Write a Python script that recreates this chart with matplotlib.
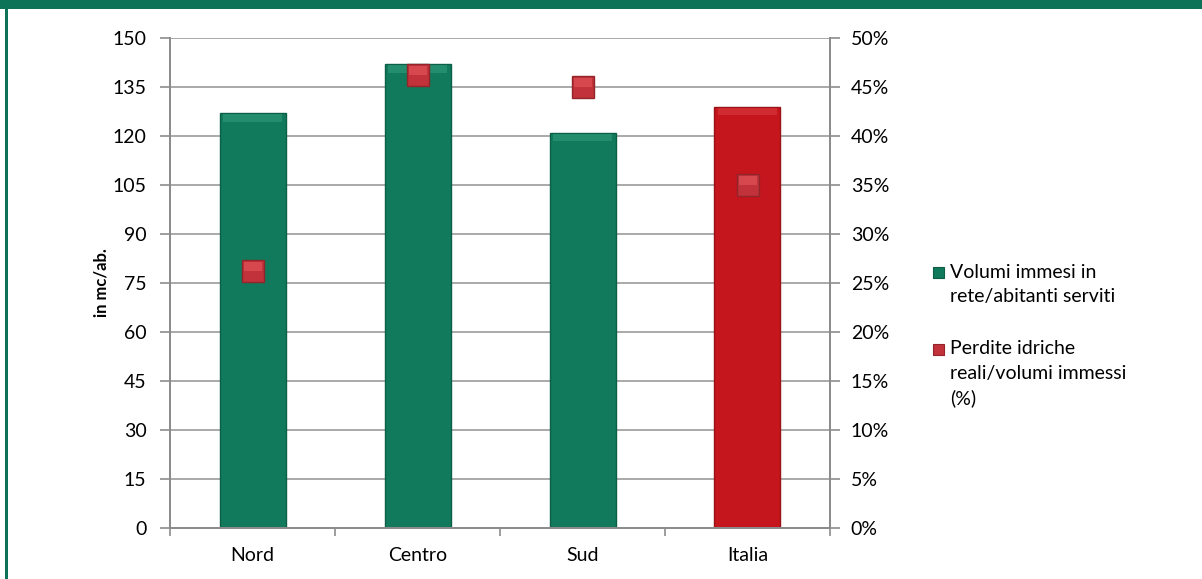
import matplotlib
matplotlib.use("Agg")
import matplotlib.pyplot as plt
from matplotlib.patches import Rectangle
from matplotlib.ticker import FixedLocator

# Data
categories = ["Nord", "Centro", "Sud", "Italia"]
volumi = [127, 142, 121, 129]          # mc/ab.
perdite = [26.2, 46.2, 45.0, 35.0]     # %
left_ticks = [0, 15, 30, 45, 60, 75, 90, 105, 120, 135, 150]
right_ticks = [0, 5, 10, 15, 20, 25, 30, 35, 40, 45, 50]
legend_labels = [["Volumi immesi in", "rete/abitanti serviti"],
                 ["Perdite idriche", "reali/volumi immessi", "(%)"]]

GREEN = "#117a5c"
GREEN_EDGE = "#0c5e46"
GREEN_HI = "#3aa584"
RED_BAR = "#c4161c"
RED_EDGE = "#9a1216"
RED_HI = "#e0454a"
MARK_TOP = "#d6474e"
MARK_BOT = "#c1323a"
MARK_EDGE = "#93242a"
FRAME = "#0d7358"
GRID = "#a9a9a9"
SPINE = "#8c8c8c"

plt.rcParams["font.family"] = ["Lato", "DejaVu Sans"]
FS = 14

fig = plt.figure(figsize=(12.02, 5.79), dpi=100)
ax = fig.add_axes([170 / 1202, 1 - 528 / 579, 660 / 1202, 490 / 579])
ax2 = ax.twinx()

x = list(range(len(categories)))
bar_w = 0.40
colors = [GREEN, GREEN, GREEN, RED_BAR]
edges = [GREEN_EDGE, GREEN_EDGE, GREEN_EDGE, RED_EDGE]
his = [GREEN_HI, GREEN_HI, GREEN_HI, RED_HI]

ax.set_axisbelow(True)
ax.bar(x, volumi, width=bar_w, color=colors, edgecolor=edges, linewidth=1.0, zorder=2)
# soft bevel along the top of each bar
ax.bar(x, [2.2] * len(x), bottom=[v - 2.6 for v in volumi], width=bar_w * 0.9,
       color=his, linewidth=0, alpha=0.45, zorder=3)

ax.set_xlim(-0.5, len(categories) - 0.5)
ax.set_ylim(0, 150)
ax.yaxis.set_major_locator(FixedLocator(left_ticks))
ax.grid(axis="y", color=GRID, linewidth=1.4, zorder=0)
ax.set_xticks(x)
ax.set_xticklabels(categories, fontsize=FS)
ax.xaxis.set_minor_locator(FixedLocator([i - 0.5 for i in range(len(categories) + 1)]))
ax.tick_params(axis="x", which="major", length=0, pad=14)
ax.tick_params(axis="x", which="minor", length=6, color=SPINE, width=1.2)
ax.tick_params(axis="y", length=7, color=SPINE, width=1.2, labelsize=FS, pad=10)
ax.set_ylabel("in mc/ab.", fontsize=12, fontweight="bold")
ax.yaxis.set_label_coords(-0.092, 0.5)

ax2.set_ylim(0, 50)
ax2.yaxis.set_major_locator(FixedLocator(right_ticks))
ax2.set_yticklabels([f"{t}%" for t in right_ticks])
ax2.tick_params(axis="y", length=7, color=SPINE, width=1.2, labelsize=FS, pad=8)
# square markers with a lighter upper half for a bevelled look
ax2.plot(x, perdite, linestyle="none", marker="s", markersize=15.5,
         markerfacecolor=MARK_BOT, markeredgecolor=MARK_EDGE, markeredgewidth=1.0, zorder=5)
ax2.plot(x, perdite, linestyle="none", marker="s", markersize=13.5, fillstyle="top",
         markerfacecolor=MARK_TOP, markerfacecoloralt="none", markeredgewidth=0, zorder=6)

for a in (ax, ax2):
    a.spines["top"].set_visible(False)
    for s in ("left", "right", "bottom"):
        a.spines[s].set_color(SPINE)
        a.spines[s].set_linewidth(1.4)

# Legend
leg_x = 933 / 1202
text_x = 950 / 1202
line_px = 24.7
for y_px, col, edge, lines in [(272, GREEN, GREEN_EDGE, legend_labels[0]),
                               (349, MARK_BOT, MARK_EDGE, legend_labels[1])]:
    yf = 1 - y_px / 579
    fig.patches.append(Rectangle((leg_x, yf - 5.5 / 579), 11 / 1202, 11 / 579,
                                 transform=fig.transFigure, facecolor=col,
                                 edgecolor=edge, linewidth=0.8))
    for i, line in enumerate(lines):
        fig.text(text_x, 1 - (y_px + i * line_px) / 579, line, fontsize=FS,
                 va="center", ha="left")

# Frame: top band and left border
fig.patches.append(Rectangle((0, 1 - 8.5 / 579), 1, 8.5 / 579, transform=fig.transFigure,
                             facecolor=FRAME, edgecolor="none"))
fig.patches.append(Rectangle((5 / 1202, 0), 3 / 1202, 1, transform=fig.transFigure,
                             facecolor=FRAME, edgecolor="none"))

fig.savefig("out.png", dpi=100)
